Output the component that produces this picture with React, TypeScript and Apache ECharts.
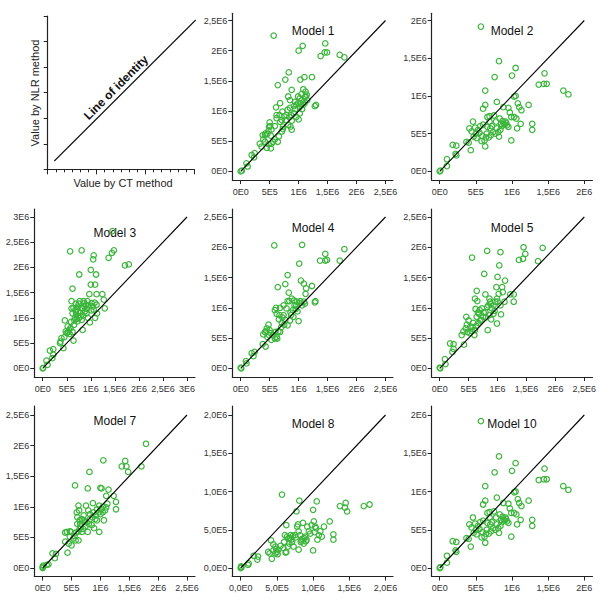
import React, { useEffect, useRef } from 'react';
import * as echarts from 'echarts';

// Values in millions (CT method value, NLR method value)
const model1: number[][] = [[0,0],[0.02,0.01],[0.1,0.13],[0.12,0.08],[0.19,0.27],[0.24,0.3],[0.23,0.23],[0.36,0.41],[0.45,0.39],[0.39,0.53],[0.42,0.6],[0.48,0.67],[0.49,0.74],[0.5,0.81],[0.53,0.69],[0.46,0.62],[0.52,0.59],[0.59,0.53],[0.64,0.49],[0.66,0.58],[0.71,0.66],[0.59,0.75],[0.62,0.88],[0.67,0.93],[0.61,1.06],[0.68,1.13],[0.72,0.99],[0.75,0.91],[0.78,0.85],[0.82,0.77],[0.84,0.9],[0.87,0.93],[0.88,0.84],[0.86,0.74],[0.92,0.96],[0.94,1.03],[0.96,0.9],[1.0,0.86],[1.02,0.96],[1.06,1.03],[1.08,1.1],[1.11,1.14],[1.04,1.12],[0.99,1.24],[1.05,1.28],[1.08,1.36],[1.11,1.23],[1.15,1.18],[1.12,1.32],[0.88,1.35],[0.82,1.24],[0.85,1.18],[0.94,1.15],[0.83,1.64],[0.77,1.52],[1.03,1.52],[1.1,1.56],[1.23,1.56],[1.3,1.1],[1.28,1.08],[0.64,1.43],[0.57,2.25],[1.0,2.0],[1.07,2.08],[1.38,1.91],[1.46,2.12],[1.45,1.97],[1.49,1.97],[1.71,1.93],[1.79,1.89],[0.62,0.93],[0.68,0.82],[0.73,0.74],[0.71,0.85],[0.79,0.93],[0.81,1.02],[0.85,1.05],[0.92,1.08],[0.96,1.1],[0.88,0.69],[0.73,0.7],[0.56,0.49],[0.53,0.46],[0.42,0.49],[0.48,0.45],[0.52,0.38],[0.33,0.46],[0.38,0.6],[0.43,0.63],[0.51,0.75],[0.99,1.13],[1.02,1.21],[1.12,1.24],[1.14,1.27],[1.06,1.18],[1.02,1.07]];

const model2: number[][] = [[0,0],[0.01,0.01],[0.1,0.07],[0.1,0.16],[0.18,0.35],[0.23,0.34],[0.22,0.23],[0.23,0.21],[0.37,0.39],[0.4,0.38],[0.43,0.28],[0.41,0.57],[0.46,0.66],[0.49,0.58],[0.5,0.5],[0.51,0.44],[0.47,0.46],[0.44,0.53],[0.6,0.83],[0.63,0.88],[0.63,1.07],[0.63,0.33],[0.62,0.41],[0.59,0.47],[0.65,0.5],[0.66,0.59],[0.66,0.72],[0.69,0.73],[0.69,0.66],[0.7,0.57],[0.76,1.25],[0.79,0.92],[0.75,0.74],[0.78,0.66],[0.79,0.57],[0.81,0.52],[0.82,0.46],[0.82,1.46],[0.83,0.7],[0.85,0.63],[0.87,0.67],[0.88,0.85],[0.89,0.63],[0.9,0.62],[0.92,0.64],[0.95,0.59],[0.95,0.84],[0.97,0.78],[0.99,0.72],[1.0,1.27],[0.99,0.41],[1.03,0.72],[1.03,0.99],[1.05,1.37],[1.05,1.0],[1.06,0.7],[1.07,0.57],[1.08,0.9],[1.1,0.85],[1.13,0.81],[1.12,0.63],[1.23,0.88],[1.28,0.63],[1.28,0.55],[1.37,1.15],[1.45,1.3],[1.44,1.16],[1.48,1.16],[1.71,1.07],[1.78,1.02],[0.57,1.92],[0.53,0.55],[0.56,0.6],[0.6,0.62],[0.72,0.6],[0.74,0.52],[0.68,0.45],[0.86,0.6],[0.91,0.66],[0.93,0.61],[0.84,0.55],[0.77,0.5],[0.71,0.48],[0.64,0.45],[0.55,0.51],[0.58,0.4]];

const model3: number[][] = [[0,0],[0.01,0.01],[0.1,0.07],[0.08,0.15],[0.15,0.35],[0.22,0.38],[0.22,0.27],[0.2,0.2],[0.37,0.53],[0.39,0.6],[0.43,0.4],[0.36,0.5],[0.46,0.95],[0.48,0.73],[0.52,0.83],[0.55,0.76],[0.5,0.7],[0.58,0.8],[0.57,2.32],[0.6,1.33],[0.62,1.58],[0.6,1.19],[0.62,1.09],[0.64,0.55],[0.65,0.86],[0.67,1.0],[0.68,1.16],[0.7,1.06],[0.72,0.93],[0.74,1.13],[0.75,1.28],[0.76,1.86],[0.77,1.33],[0.79,1.03],[0.81,2.34],[0.82,1.19],[0.83,0.76],[0.86,1.29],[0.88,1.13],[0.9,1.26],[0.91,1.09],[0.93,1.33],[0.94,1.0],[0.97,1.47],[0.98,0.91],[1.0,1.95],[1.0,1.66],[1.02,1.29],[1.04,1.23],[1.05,2.16],[1.06,2.24],[1.06,1.16],[1.09,1.66],[1.11,1.86],[1.12,1.47],[1.12,1.26],[1.09,1.0],[1.13,1.09],[1.24,1.47],[1.27,1.36],[1.29,1.19],[1.37,2.19],[1.44,2.29],[1.48,2.34],[1.45,2.72],[1.71,2.04],[1.79,2.06],[0.62,0.72],[0.66,0.95],[0.69,1.12],[0.71,0.98],[0.78,1.1],[0.8,1.2],[0.84,1.05],[0.87,1.22],[0.92,1.18],[0.95,1.25],[0.73,1.22],[0.56,0.68],[0.53,0.72],[0.45,0.62],[0.59,0.92],[0.81,0.96],[0.76,1.0],[1.01,1.15],[1.08,1.3],[0.85,1.33],[0.69,1.28],[0.64,1.2]];

const model4: number[][] = [[0,0.01],[0.01,0],[0.1,0.08],[0.09,0.12],[0.19,0.25],[0.24,0.27],[0.22,0.2],[0.38,0.4],[0.43,0.36],[0.39,0.56],[0.42,0.6],[0.45,0.66],[0.48,0.72],[0.5,0.63],[0.52,0.58],[0.46,0.52],[0.59,0.49],[0.62,0.52],[0.65,0.61],[0.68,0.6],[0.58,2.03],[0.61,1.0],[0.64,1.34],[0.68,1.0],[0.62,0.9],[0.66,0.81],[0.71,0.75],[0.74,0.88],[0.77,1.39],[0.81,1.54],[0.83,1.25],[0.81,1.11],[0.84,1.11],[0.81,0.71],[0.88,1.15],[0.9,0.96],[0.87,0.88],[0.92,1.12],[0.96,1.04],[0.98,0.94],[1.0,0.78],[1.01,1.73],[1.03,1.11],[1.06,2.04],[1.06,1.04],[1.04,1.45],[1.09,1.4],[1.12,1.23],[1.13,1.32],[1.09,1.1],[1.11,1.07],[1.23,1.36],[1.29,1.11],[1.28,1.09],[1.37,1.78],[1.46,1.89],[1.46,1.78],[1.49,1.79],[1.71,1.78],[1.79,1.97],[0.74,1.04],[0.79,0.99],[0.93,1.04],[0.97,1.1],[0.85,0.79],[0.91,0.85],[0.59,0.96],[0.67,0.88],[0.56,0.55],[0.6,0.6],[0.7,0.68],[0.75,0.72],[0.53,0.47],[0.63,0.49],[0.49,0.55],[0.44,0.62],[0.77,0.8],[0.86,0.92],[0.95,0.98],[1.02,1.08],[0.72,0.84]];

const model5: number[][] = [[0,0.01],[0.01,0],[0.09,0.15],[0.1,0.07],[0.18,0.41],[0.24,0.4],[0.22,0.27],[0.24,0.32],[0.38,0.55],[0.42,0.39],[0.41,0.61],[0.46,0.85],[0.47,0.72],[0.5,0.79],[0.53,0.69],[0.48,0.6],[0.6,0.55],[0.61,0.63],[0.63,0.7],[0.56,1.83],[0.61,1.15],[0.64,1.28],[0.65,1.11],[0.68,0.9],[0.69,0.96],[0.7,0.79],[0.75,0.85],[0.77,1.56],[0.79,1.22],[0.82,1.94],[0.83,0.63],[0.84,1.04],[0.86,1.15],[0.87,1.1],[0.9,0.99],[0.93,0.9],[0.89,0.81],[0.96,1.1],[0.99,0.74],[0.98,1.34],[1.0,1.51],[1.02,1.23],[1.03,1.7],[1.05,1.92],[1.08,1.34],[1.06,0.89],[1.09,1.26],[1.05,1.04],[1.12,1.1],[1.13,1.45],[1.22,1.22],[1.28,1.22],[1.28,1.1],[1.37,1.79],[1.44,1.81],[1.45,2.0],[1.48,1.89],[1.7,1.77],[1.78,1.99],[0.73,0.99],[0.79,0.93],[0.82,1.01],[0.93,1.04],[0.99,1.15],[0.86,0.88],[0.58,0.75],[0.64,0.85],[0.55,0.62],[0.52,0.58],[0.45,0.66],[0.67,0.75],[0.72,0.8],[0.76,0.92],[0.8,0.84],[0.88,1.06],[0.95,0.95],[0.62,0.98],[0.66,0.92],[0.57,0.68],[1.0,1.1]];

const model7: number[][] = [[0,0],[0,0.02],[0.01,0.04],[0.1,0.06],[0.07,0.05],[0.17,0.24],[0.23,0.23],[0.21,0.16],[0.39,0.58],[0.42,0.59],[0.47,0.6],[0.49,0.59],[0.43,0.25],[0.39,0.43],[0.47,0.51],[0.5,0.37],[0.45,0.4],[0.53,0.48],[0.56,1.35],[0.59,0.91],[0.62,1.02],[0.63,0.94],[0.6,0.83],[0.65,0.72],[0.64,0.64],[0.62,0.45],[0.68,0.59],[0.71,0.78],[0.73,0.75],[0.75,1.02],[0.78,1.3],[0.81,1.57],[0.79,0.94],[0.82,0.8],[0.78,0.59],[0.87,1.06],[0.89,0.65],[0.91,0.8],[0.94,0.78],[0.97,0.91],[0.98,0.59],[1.0,1.31],[1.02,1.3],[1.01,0.96],[1.04,0.91],[1.05,1.76],[1.06,0.78],[1.08,0.94],[1.1,0.99],[1.12,1.05],[1.14,1.28],[1.1,1.18],[1.23,1.18],[1.27,1.08],[1.27,0.96],[1.37,1.66],[1.43,1.75],[1.45,1.66],[1.48,1.57],[1.71,1.66],[1.79,2.03],[0.68,0.8],[0.71,0.86],[0.82,0.88],[0.88,0.91],[0.76,0.75],[0.94,0.96],[1.0,0.88],[0.85,0.7],[0.62,0.6],[0.66,0.68],[0.55,0.52],[0.58,0.58],[0.7,0.64],[0.74,0.68],[0.8,0.72],[0.86,0.83],[0.92,0.86],[0.64,0.78],[0.57,0.45],[1.04,1.0],[0.98,1.02],[0.6,0.72]];

const model8: number[][] = [[0,0],[0.01,0.01],[0.005,0.02],[0.1,0.04],[0.11,0.06],[0.18,0.16],[0.23,0.11],[0.24,0.15],[0.38,0.21],[0.42,0.36],[0.4,0.19],[0.43,0.12],[0.45,0.31],[0.48,0.28],[0.49,0.25],[0.5,0.21],[0.51,0.18],[0.45,0.23],[0.48,0.19],[0.57,0.96],[0.59,0.26],[0.6,0.34],[0.61,0.43],[0.63,0.56],[0.65,0.28],[0.63,0.21],[0.66,0.39],[0.67,0.32],[0.69,0.43],[0.71,0.34],[0.73,0.28],[0.75,0.43],[0.77,0.74],[0.78,0.54],[0.79,0.57],[0.8,0.24],[0.81,0.88],[0.82,0.43],[0.83,0.34],[0.85,0.38],[0.86,0.59],[0.88,0.39],[0.89,0.41],[0.91,0.37],[0.92,0.54],[0.94,0.48],[1.0,0.76],[1.0,0.23],[1.01,0.61],[1.02,0.47],[1.03,0.54],[1.05,0.87],[1.06,0.37],[1.08,0.43],[1.1,0.48],[1.12,0.41],[1.15,0.54],[1.23,0.61],[1.28,0.44],[1.28,0.37],[1.37,0.81],[1.45,0.85],[1.44,0.79],[1.47,0.74],[1.7,0.81],[1.78,0.83],[0.98,0.56],[0.96,0.45],[1.04,0.52],[0.68,0.39],[0.8,0.48],[0.62,0.2],[0.55,0.29],[0.7,0.37],[0.76,0.4],[0.84,0.36],[0.87,0.32],[0.9,0.35],[0.64,0.41],[0.72,0.42],[0.52,0.24]];

// Model 10 plots the same points as Model 2
const model10: number[][] = model2;

const ticks20 = [0, 0.5, 1, 1.5, 2];
const ticks25 = [0, 0.5, 1, 1.5, 2, 2.5];
const ticks30 = [0, 0.5, 1, 1.5, 2, 2.5, 3];
const labels20 = ['0E0', '5E5', '1E6', '1,5E6', '2E6'];
const labels25 = ['0E0', '5E5', '1E6', '1,5E6', '2E6', '2,5E6'];
const labels30 = ['0E0', '5E5', '1E6', '1,5E6', '2E6', '2,5E6', '3E6'];
const labels20dec = ['0,0E0', '5,0E5', '1,0E6', '1,5E6', '2,0E6'];

const panelTitles = ['Model 1', 'Model 2', 'Model 3', 'Model 4', 'Model 5', 'Model 7', 'Model 8', 'Model 10'];
const panelData = [model1, model2, model3, model4, model5, model7, model8, model10];
const panelTicks = [ticks25, ticks20, ticks30, ticks25, ticks25, ticks25, ticks20, ticks20];
const panelLabels = [labels25, labels20, labels30, labels25, labels25, labels25, labels20dec, labels20];

// Layout (pixels)
const GREEN = '#3ab53a';
const FONT = '"Liberation Sans", Arial, Helvetica, sans-serif';
const COLS = [
  { left: 34.3, zero: 42.7, end: 187, right: 195 },
  { left: 232.3, zero: 240.7, end: 385.5, right: 393 },
  { left: 431.7, zero: 439.7, end: 584.3, right: 592.5 },
];
const ROWS = [
  { top: 13.3, end: 20.5, zero: 171.3, bottom: 180 },
  { top: 209, end: 217, zero: 368.3, bottom: 377 },
  { top: 406, end: 415, zero: 568, bottom: 576.5 },
];
const panelPos = [[1, 0], [2, 0], [0, 1], [1, 1], [2, 1], [0, 2], [1, 2], [2, 2]];
const titleY = [30.7, 30.7, 232.5, 227.5, 227.5, 420.5, 424, 424];

function buildOption() {
  const grid: any[] = [];
  const xAxis: any[] = [];
  const yAxis: any[] = [];
  const series: any[] = [];
  const graphic: any[] = [];

  // Template panel (explanatory)
  grid.push({ left: 47.7, top: 16, width: 146.6, height: 153.3 });
  xAxis.push({
    gridIndex: 0, type: 'value', min: 0, max: 18, interval: 6,
    axisLine: { show: true, onZero: false, lineStyle: { color: '#222', width: 1.2 } },
    axisTick: { show: true, length: 5, lineStyle: { color: '#222' } },
    minorTick: { show: true, splitNumber: 6, length: 3, lineStyle: { color: '#222' } },
    axisLabel: { show: false }, splitLine: { show: false }, minorSplitLine: { show: false },
  });
  yAxis.push({
    gridIndex: 0, type: 'value', min: 0, max: 6, interval: 1,
    axisLine: { show: true, onZero: false, lineStyle: { color: '#222', width: 1.2 } },
    axisTick: { show: true, length: 4, lineStyle: { color: '#222' } },
    axisLabel: { show: false }, splitLine: { show: false },
  });
  graphic.push(
    { type: 'line', shape: { x1: 54.3, y1: 161, x2: 195.7, y2: 20 }, style: { stroke: '#111', lineWidth: 1.1 } },
    { type: 'text', x: 116, y: 87.5, rotation: Math.PI / 4, style: { text: 'Line of identity', font: `bold 12px ${FONT}`, fill: '#111', align: 'center', verticalAlign: 'middle' } },
    { type: 'text', x: 35, y: 93, rotation: Math.PI / 2, style: { text: 'Value by NLR method', font: `11px ${FONT}`, fill: '#222', align: 'center', verticalAlign: 'middle' } },
    { type: 'text', x: 123, y: 183, style: { text: 'Value by CT method', font: `11px ${FONT}`, fill: '#222', align: 'center', verticalAlign: 'middle' } },
  );

  panelData.forEach((data, i) => {
    const gi = i + 1;
    const c = COLS[panelPos[i][0]];
    const r = ROWS[panelPos[i][1]];
    const ticks = panelTicks[i];
    const labels = panelLabels[i];
    const M = ticks[ticks.length - 1];
    const fmt = (v: number) => {
      const k = ticks.findIndex((t) => Math.abs(t - v) < 1e-9);
      return k >= 0 ? labels[k] : '';
    };
    grid.push({ left: c.left, top: r.top, width: c.right - c.left, height: r.bottom - r.top });
    const axisCommon = {
      type: 'value',
      axisLine: { show: true, onZero: false, lineStyle: { color: '#222', width: 1.2 } },
      axisTick: { show: true, customValues: ticks, length: 4, lineStyle: { color: '#222', width: 1 } },
      splitLine: { show: false },
    };
    xAxis.push({
      ...axisCommon, gridIndex: gi,
      min: (-M * (c.zero - c.left)) / (c.end - c.zero),
      max: (M * (c.right - c.zero)) / (c.end - c.zero),
      axisLabel: { customValues: ticks, formatter: fmt, fontSize: 9, color: '#333', margin: 7, fontFamily: FONT },
    });
    yAxis.push({
      ...axisCommon, gridIndex: gi,
      min: (-M * (r.bottom - r.zero)) / (r.zero - r.end),
      max: (M * (r.zero - r.top)) / (r.zero - r.end),
      axisLabel: { customValues: ticks, formatter: fmt, fontSize: 9, color: '#333', margin: 5, fontFamily: FONT },
    });
    series.push({
      type: 'scatter', xAxisIndex: gi, yAxisIndex: gi, data,
      symbol: 'circle', symbolSize: 5.5,
      itemStyle: { color: 'rgba(0,0,0,0)', borderColor: GREEN, borderWidth: 1.2, opacity: 1 },
      silent: true, z: 2,
    });
    series.push({
      type: 'line', xAxisIndex: gi, yAxisIndex: gi, data: [[0, 0], [M, M]],
      symbol: 'none', lineStyle: { color: '#000', width: 1.1 }, silent: true, z: 3,
    });
    graphic.push({
      type: 'text', x: (c.zero + c.end) / 2, y: titleY[i],
      style: { text: panelTitles[i], font: `12px ${FONT}`, fill: '#111', align: 'center', verticalAlign: 'middle' },
    });
  });

  return { animation: false, backgroundColor: '#fff', grid, xAxis, yAxis, series, graphic };
}

export default function App() {
  const ref = useRef<HTMLDivElement>(null);
  useEffect(() => {
    if (!ref.current) return;
    const chart = echarts.init(ref.current, undefined, { renderer: 'svg' });
    chart.setOption(buildOption() as any);
    return () => chart.dispose();
  }, []);
  return <div ref={ref} style={{ position: 'fixed', left: 0, top: 0, width: 600, height: 600, background: '#fff' }} />;
}
